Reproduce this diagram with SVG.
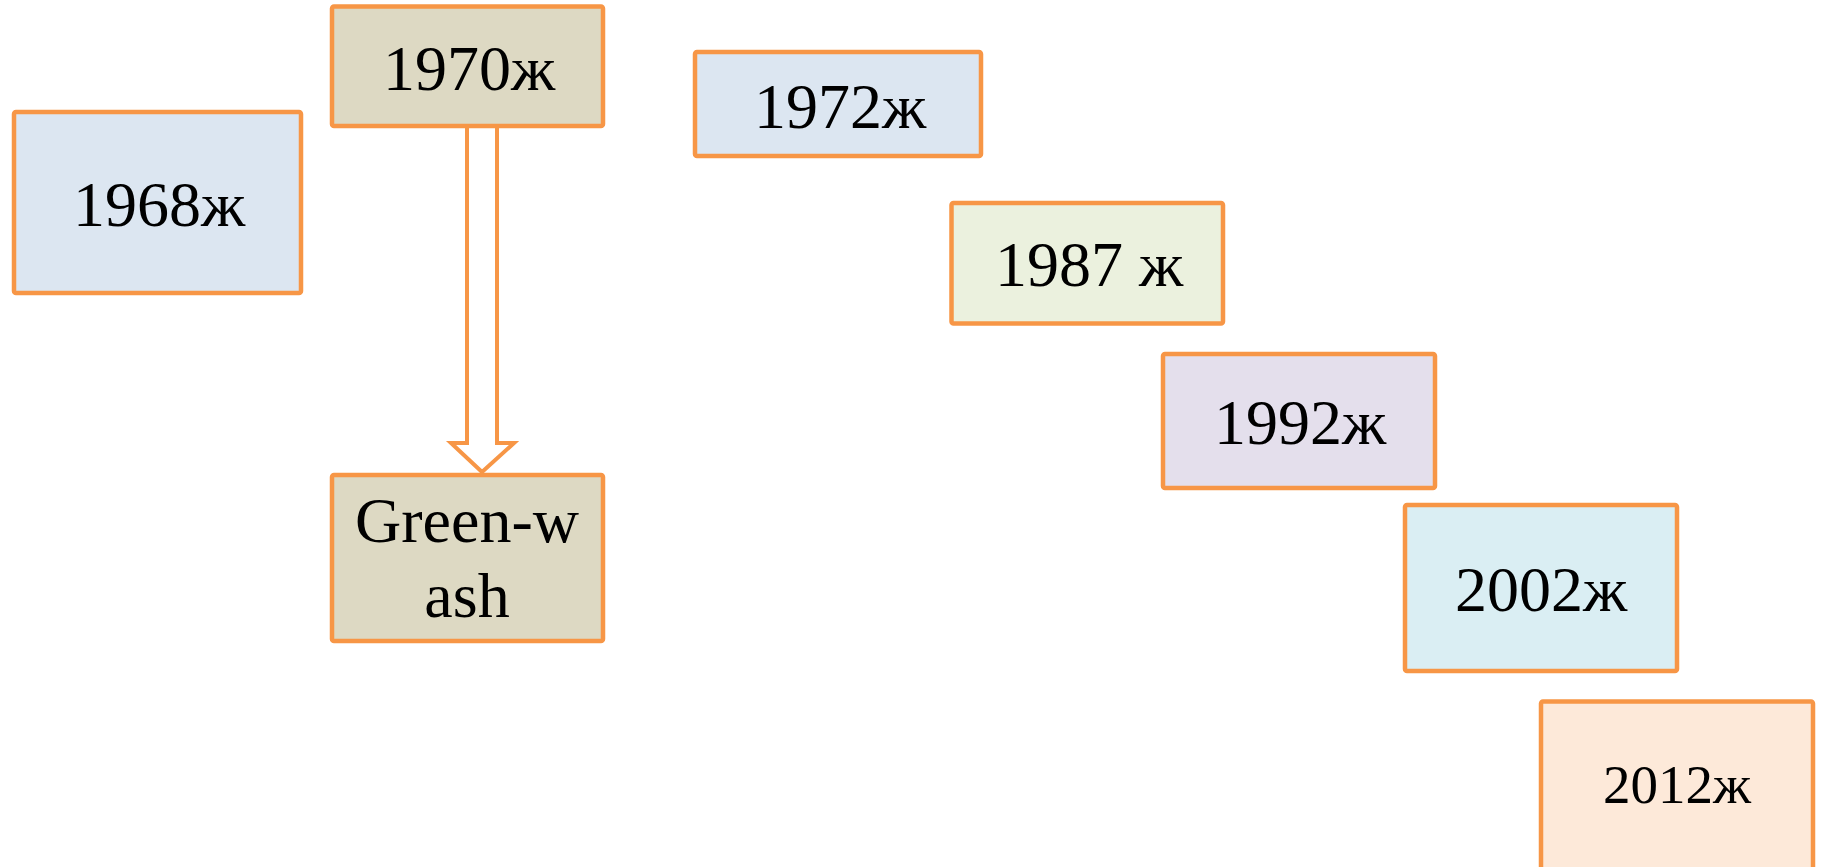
<svg xmlns="http://www.w3.org/2000/svg" width="1822" height="867" viewBox="0 0 1822 867">
  <style>
    .box { stroke: #F79646; stroke-width: 4.5; stroke-linejoin: round; }
    .lbl { font-family: "Liberation Serif", "Times New Roman", serif; font-size: 64px; fill: #000; text-anchor: middle; }
    .arrow { fill: #FFFFFF; stroke: #F79646; stroke-width: 4; stroke-linejoin: miter; }
  </style>
  <rect width="1822" height="867" fill="#FFFFFF"/>
  <g id="connectors">
    <polygon class="arrow" points="467,124 467,443 451,443 482,472 514,443 497,443 497,124"/>
  </g>
  <g id="node-1968">
    <rect class="box" x="14" y="112" width="287" height="181" rx="2" fill="#DCE6F1"/>
    <text class="lbl" x="159" y="226">1968ж</text>
  </g>
  <g id="node-1970">
    <rect class="box" x="332" y="6.5" width="271" height="119.5" rx="2" fill="#DDD9C3"/>
    <text class="lbl" x="469" y="90">1970ж</text>
  </g>
  <g id="node-greenwash">
    <rect class="box" x="332" y="475" width="271" height="166" rx="2" fill="#DDD9C3"/>
    <text class="lbl" x="467" y="542">Green-w</text>
    <text class="lbl" x="467" y="617">ash</text>
  </g>
  <g id="node-1972">
    <rect class="box" x="695" y="52" width="286" height="104" rx="2" fill="#DCE6F1"/>
    <text class="lbl" x="840" y="128">1972ж</text>
  </g>
  <g id="node-1987">
    <rect class="box" x="951.5" y="203" width="271.5" height="120.5" rx="2" fill="#EBF1DE"/>
    <text class="lbl" x="1089" y="286">1987 ж</text>
  </g>
  <g id="node-1992">
    <rect class="box" x="1163" y="354" width="272" height="134" rx="2" fill="#E4DFEC"/>
    <text class="lbl" x="1300" y="444">1992ж</text>
  </g>
  <g id="node-2002">
    <rect class="box" x="1405" y="505" width="272" height="166" rx="2" fill="#DAEEF3"/>
    <text class="lbl" x="1541" y="611">2002ж</text>
  </g>
  <g id="node-2012">
    <rect class="box" x="1541" y="701.5" width="272" height="172" rx="2" fill="#FDE9D9"/>
    <text class="lbl" x="1677" y="803" style="font-size:55px">2012ж</text>
  </g>
</svg>
